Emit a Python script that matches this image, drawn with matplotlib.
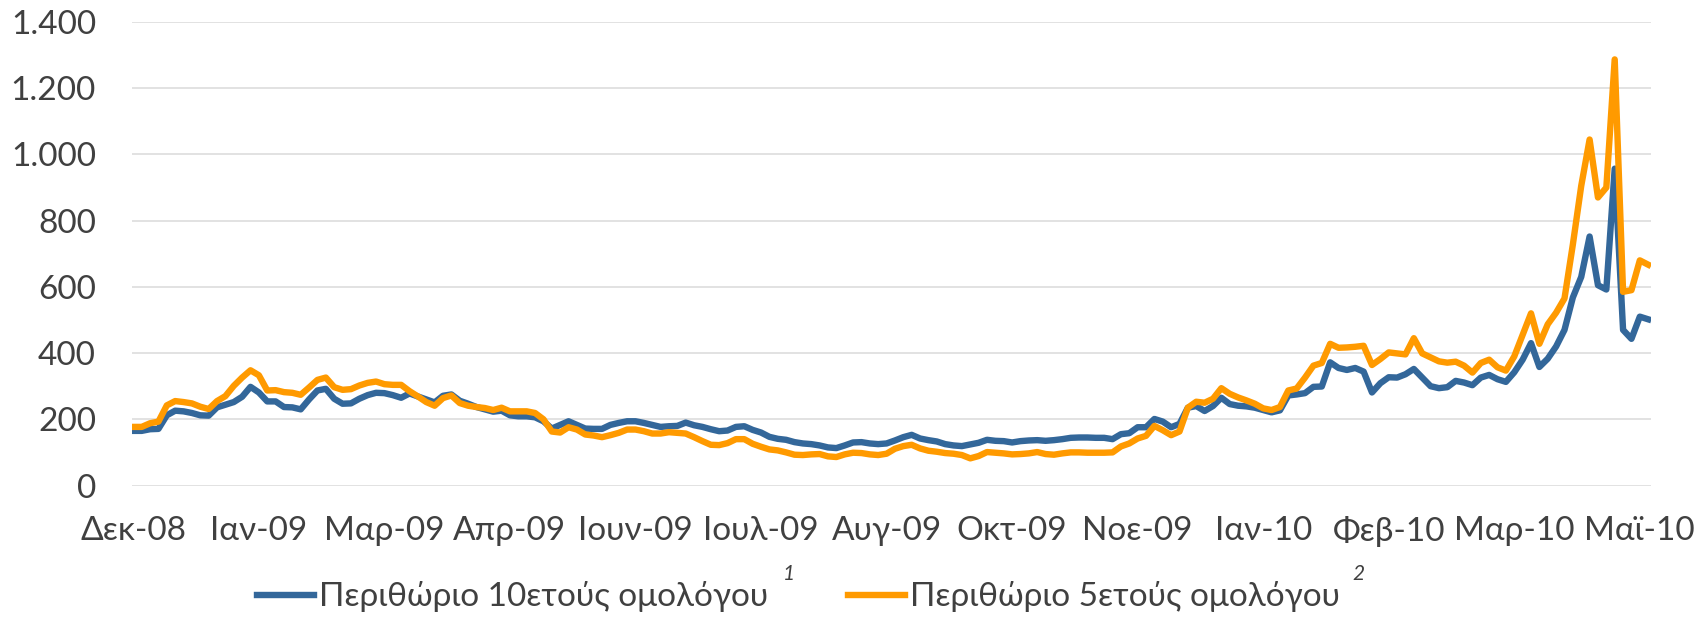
import matplotlib.pyplot as plt

# bond spreads (basis points), one value every 2 trading days, Dec-08 .. May-10
spread_10y = [
    165, 165, 170, 171, 212, 226, 224, 219, 212, 211,
    236, 244, 252, 268, 298, 281, 254, 254, 237, 236,
    230, 260, 287, 292, 262, 247, 248, 262, 273, 280,
    279, 273, 265, 278, 269, 260, 251, 271, 275, 256,
    247, 237, 230, 223, 226, 212, 209, 209, 206, 194,
    172, 183, 194, 183, 172, 171, 171, 183, 189, 194,
    194, 189, 183, 177, 179, 180, 190, 182, 177, 170,
    164, 166, 177, 179, 168, 160, 147, 141, 138, 131,
    127, 125, 121, 115, 113, 121, 130, 131, 127, 125,
    127, 136, 146, 153, 142, 137, 133, 125, 121, 119,
    124, 129, 138, 135, 134, 130, 134, 136, 137, 135,
    137, 140, 144, 145, 145, 144, 144, 140, 155, 158,
    176, 176, 201, 193, 176, 186, 235, 240, 225, 240,
    265, 246, 241, 239, 235, 228, 221, 227, 272, 275,
    279, 298, 299, 372, 355, 349, 355, 344, 281, 309,
    327, 326, 336, 352, 326, 300, 294, 297, 316, 311,
    303, 326, 334, 321, 313, 342, 380, 430, 358, 383,
    420, 470, 568, 630, 752, 605, 592, 957, 470, 443,
    510, 502,
]
spread_5y = [
    177, 177, 188, 193, 242, 255, 252, 248, 238, 231,
    255, 270, 301, 326, 348, 333, 287, 288, 282, 280,
    274, 296, 319, 326, 297, 289, 291, 302, 310, 314,
    306, 304, 304, 285, 269, 252, 241, 264, 272, 249,
    241, 237, 234, 228, 235, 224, 224, 224, 219, 200,
    163, 160, 176, 169, 154, 151, 146, 152, 159, 169,
    169, 164, 157, 157, 161, 159, 157, 146, 134, 123,
    122, 128, 140, 140, 126, 117, 109, 106, 100, 93,
    92, 94, 95, 88, 86, 94, 99, 98, 94, 92,
    96, 111, 119, 123, 112, 105, 102, 98, 96, 92,
    82, 89, 101, 99, 97, 94, 95, 97, 101, 95,
    93, 97, 100, 100, 99, 99, 99, 100, 118, 127,
    142, 150, 180, 167, 152, 163, 235, 253, 250, 262,
    294, 277, 266, 257, 247, 233, 228, 237, 287, 293,
    326, 362, 370, 428, 416, 417, 419, 422, 364, 382,
    402, 399, 396, 445, 399, 387, 375, 371, 374, 362,
    341, 370, 380, 357, 347, 390, 455, 520, 428, 487,
    522, 565, 728, 905, 1045, 870, 900, 1287, 585, 590,
    680, 667,
]
days = list(range(0, 2 * len(spread_10y), 2))

tick_days = list(range(0, 361, 30))
tick_labels = ['Δεκ-08', 'Ιαν-09', 'Μαρ-09', 'Απρ-09', 'Ιουν-09', 'Ιουλ-09', 'Αυγ-09',
               'Οκτ-09', 'Νοε-09', 'Ιαν-10', 'Φεβ-10', 'Μαρ-10', 'Μαϊ-10']
y_ticks = [0, 200, 400, 600, 800, 1000, 1200, 1400]
y_labels = ['0', '200', '400', '600', '800', '1.000', '1.200', '1.400']

plt.rcParams['font.family'] = ['Lato', 'DejaVu Sans']

fig = plt.figure(figsize=(17.02, 6.18), dpi=100)
ax = fig.add_axes([0.0776, 0.2144, 0.8925, 0.750])

ax.plot(days, spread_10y, color='#33679A', lw=4.6, solid_joinstyle='round',
        label='Περιθώριο 10ετούς ομολόγου')
ax.plot(days, spread_5y, color='#FF9A00', lw=4.6, solid_joinstyle='round',
        label='Περιθώριο 5ετούς ομολόγου')

ax.set_xlim(-0.3, 362.7)
ax.set_ylim(0, 1400)
ax.set_yticks(y_ticks, y_labels)
ax.set_xticks(tick_days, tick_labels)
ax.grid(axis='y', color='#DDDDDD', lw=1.2)
ax.set_axisbelow(True)
for s in ax.spines.values():
    s.set_visible(False)
ax.tick_params(length=0, labelsize=24, colors='#404040')
ax.tick_params(axis='y', pad=26)
ax.tick_params(axis='x', pad=22)

fig.legend(loc='center', bbox_to_anchor=(0.469, 0.034), ncol=2, frameon=False,
           fontsize=24, handlelength=1.7, handletextpad=0.15, columnspacing=2.4,
           labelcolor='#404040')
fig.text(783 / 1702, 1 - 580 / 618, '1', fontstyle='italic', fontsize=15, color='#404040')
fig.text(1352 / 1702, 1 - 580 / 618, '2', fontstyle='italic', fontsize=15, color='#404040')

fig.savefig('out.png', dpi=100)
